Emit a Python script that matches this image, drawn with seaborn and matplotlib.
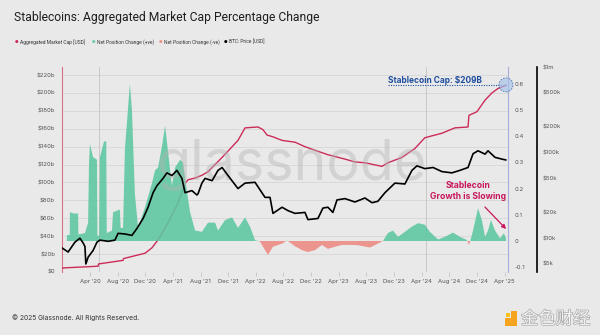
import numpy as np
import pandas as pd
import matplotlib
matplotlib.use("Agg")
import matplotlib.pyplot as plt
import matplotlib.dates as mdates
import matplotlib.patheffects as pe
from matplotlib.patches import Ellipse, FancyArrowPatch, Rectangle
from matplotlib.ticker import FixedLocator, FixedFormatter, NullLocator
import seaborn as sns

# ---- Aggregated stablecoin market cap (USD billions) ----
mcap_dates = ["2019-11-30", "2020-04-01", "2020-05-07", "2020-05-09", "2020-08-25", "2020-08-27",
              "2020-11-30", "2020-12-30", "2021-01-26", "2021-03-11", "2021-04-24", "2021-05-25",
              "2021-06-07", "2021-07-08", "2021-08-07", "2021-09-03", "2021-11-04", "2022-01-13",
              "2022-02-13", "2022-04-11", "2022-05-03", "2022-05-21", "2022-06-16", "2022-07-26",
              "2022-09-21", "2022-11-04", "2022-12-18", "2023-02-13", "2023-04-16", "2023-06-12",
              "2023-07-26", "2023-10-09", "2023-11-04", "2024-01-05", "2024-03-02", "2024-04-15",
              "2024-06-29", "2024-08-25", "2024-10-22", "2024-10-26", "2024-11-30", "2025-01-05",
              "2025-02-04", "2025-03-03", "2025-04-03", "2025-04-07"]
mcap_bn = [4.5, 6, 6.5, 9, 13, 15,
           21, 27, 36, 55, 77, 99,
           103, 105, 108, 112, 128, 147,
           161, 162, 159, 153, 151, 147,
           145, 140, 136, 131, 127, 123,
           122, 118, 122, 128, 138, 150,
           155, 161, 162, 175, 179, 192,
           200, 205, 208, 209]

# ---- BTC price (USD thousands) ----
btc_dates = ["2019-11-30", "2019-12-27", "2020-01-26", "2020-02-17", "2020-03-02", "2020-03-10",
             "2020-03-14", "2020-03-24", "2020-04-15", "2020-05-02", "2020-05-15", "2020-06-20",
             "2020-07-20", "2020-08-03", "2020-09-02", "2020-10-03", "2020-10-25", "2020-11-21",
             "2020-12-13", "2021-01-04", "2021-01-21", "2021-02-17", "2021-03-06", "2021-03-28",
             "2021-04-19", "2021-05-11", "2021-05-25", "2021-06-24", "2021-07-16", "2021-07-21",
             "2021-08-07", "2021-08-21", "2021-09-21", "2021-10-17", "2021-11-04", "2021-11-30",
             "2022-01-13", "2022-02-13", "2022-03-29", "2022-05-12", "2022-06-03", "2022-06-16",
             "2022-07-26", "2022-08-21", "2022-09-21", "2022-11-04", "2022-11-17", "2022-12-31",
             "2023-01-22", "2023-02-13", "2023-03-07", "2023-03-25", "2023-04-29", "2023-06-12",
             "2023-07-26", "2023-08-26", "2023-09-21", "2023-10-22", "2023-12-05", "2024-01-18",
             "2024-02-18", "2024-03-11", "2024-04-15", "2024-05-21", "2024-06-29", "2024-08-12",
             "2024-09-16", "2024-10-22", "2024-11-13", "2024-12-05", "2025-01-05", "2025-01-18",
             "2025-02-18", "2025-03-20", "2025-04-07"]
btc_k = [7.7, 6.9, 9.0, 10.0, 8.8, 8.0,
         5.0, 6.0, 7.2, 9.0, 9.5, 9.2,
         9.5, 11.4, 11.2, 10.8, 13.0, 17.0,
         23.0, 34.0, 41.0, 50.0, 58.0, 54.0,
         62.0, 50.0, 34.0, 36.0, 32.0, 33.0,
         44.0, 50.0, 47.0, 62.0, 67.0, 54.0,
         38.0, 44.0, 45.0, 30.0, 30.0, 19.5,
         23.0, 21.0, 19.5, 20.0, 16.5, 17.0,
         22.5, 23.0, 20.0, 28.0, 29.0, 26.5,
         29.5, 26.0, 27.0, 34.0, 44.0, 43.0,
         62.0, 70.0, 65.0, 67.0, 60.0, 58.0,
         62.0, 67.0, 97.0, 105.0, 96.0, 105.0,
         88.0, 84.0, 82.0]

# ---- Net position change (fraction, right axis) ----
net_dates = ["2019-12-21", "2019-12-22", "2020-01-03", "2020-01-04", "2020-01-20", "2020-02-09",
             "2020-02-10", "2020-03-10", "2020-03-24", "2020-03-28", "2020-04-01", "2020-04-15",
             "2020-05-02", "2020-05-04", "2020-05-12", "2020-05-15", "2020-06-02", "2020-06-12",
             "2020-06-14", "2020-07-07", "2020-07-12", "2020-08-11", "2020-08-14", "2020-08-25",
             "2020-09-02", "2020-09-24", "2020-10-03", "2020-10-16", "2020-10-30", "2020-11-30",
             "2020-12-30", "2021-01-13", "2021-01-26", "2021-02-12", "2021-02-26", "2021-03-11",
             "2021-03-28", "2021-04-11", "2021-05-03", "2021-05-16", "2021-06-02", "2021-06-16",
             "2021-07-08", "2021-08-07", "2021-09-03", "2021-10-04", "2021-10-17", "2021-11-17",
             "2021-12-18", "2022-01-13", "2022-02-13", "2022-03-07", "2022-03-29", "2022-04-20",
             "2022-05-12", "2022-05-25", "2022-06-16", "2022-07-26", "2022-08-17", "2022-09-21",
             "2022-10-22", "2022-11-17", "2022-12-18", "2023-01-18", "2023-02-13", "2023-03-16",
             "2023-04-16", "2023-05-30", "2023-06-25", "2023-08-17", "2023-09-21", "2023-10-13",
             "2023-11-04", "2023-11-26", "2023-12-19", "2024-01-18", "2024-02-18", "2024-03-16",
             "2024-04-15", "2024-05-07", "2024-06-12", "2024-07-12", "2024-08-17", "2024-09-16",
             "2024-10-17", "2024-10-26", "2024-11-04", "2024-11-13", "2024-12-05", "2024-12-22",
             "2025-01-05", "2025-01-18", "2025-01-31", "2025-02-18", "2025-03-12", "2025-03-29",
             "2025-04-07"]
net_change = [0.0, 0.023, 0.023, 0.11, 0.105, 0.105,
              0.025, 0.03, 0.07, 0.30, 0.37, 0.32,
              0.31, 0.02, 0.02, 0.32, 0.38, 0.38,
              0.03, 0.04, 0.11, 0.12, 0.05, 0.05,
              0.35, 0.60, 0.50, 0.18, 0.05, 0.13,
              0.22, 0.27, 0.28, 0.36, 0.44, 0.34,
              0.21, 0.28, 0.31, 0.30, 0.19, 0.11,
              0.04, 0.035, 0.07, 0.07, 0.04, 0.08,
              0.09, 0.05, 0.09, 0.055, 0.003, -0.002,
              -0.035, -0.053, -0.022, -0.01, 0.002, -0.02,
              -0.035, -0.042, -0.035, -0.015, -0.03, -0.022,
              -0.015, -0.015, -0.016, -0.025, -0.01, 0.0,
              0.03, 0.04, 0.016, 0.035, 0.055, 0.068,
              0.062, 0.035, 0.006, 0.016, 0.032, 0.016,
              0.004, -0.015, 0.01, 0.04, 0.125, 0.08,
              0.016, 0.04, 0.08, 0.04, 0.01, 0.03,
              0.01]

halving_dates = ["2020-05-11", "2024-04-20"]

left_ticks = [0, 20, 40, 60, 80, 100, 120, 140, 160, 180, 200, 220]
pct_ticks = [-0.1, 0, 0.1, 0.2, 0.3, 0.4, 0.5, 0.6]
pct_labels = ["-0.1", "0", "0.1", "0.2", "0.3", "0.4", "0.5", "0.6"]
btc_ticks = [5e3, 1e4, 2e4, 5e4, 1e5, 2e5, 5e5, 1e6]
btc_labels = ["$5k", "$10k", "$20k", "$50k", "$100k", "$200k", "$500k", "$1m"]

# ---- styling ----
BG = "#e9e9e9"
RED = "#cc2c58"
GREEN = "#5cc7a0"
SALMON = "#ec9189"
BLUE = "#1f4ea0"
MAGENTA = "#c8175d"
TICK = "#555555"

sns.set_theme(style="white")
plt.rcParams["font.family"] = ["Inter", "DejaVu Sans"]

W, H = 600, 335
fig = plt.figure(figsize=(W / 100, H / 100), dpi=100, facecolor=BG)


def fx(px):
    return px / W


def fy(py):
    return 1 - py / H


ax = fig.add_axes([fx(62), fy(272), (508 - 62) / W, (272 - 67) / H])
ax.set_facecolor(BG)
ax2 = ax.twinx()
ax3 = ax.twinx()
for a in (ax2, ax3):
    a.patch.set_visible(False)

mcap_dt = pd.to_datetime(mcap_dates)
btc_dt = pd.to_datetime(btc_dates)
net_dt = pd.to_datetime(net_dates)
net_v = np.array(net_change)

# grid + halving markers
ax.set_ylim(0, 229)
ax.yaxis.set_major_locator(FixedLocator(left_ticks))
ax.yaxis.set_major_formatter(FixedFormatter(["$0"] + [f"${v}b" for v in left_ticks[1:]]))
ax.grid(axis="y", color="#d6d6d6", lw=0.6)
ax.grid(axis="x", visible=False)
for d in halving_dates:
    ax.axvline(pd.Timestamp(d), color="#c9c9c9", lw=0.7, zorder=0.6)

# market cap line
sns.lineplot(x=mcap_dt, y=mcap_bn, ax=ax, color=RED, lw=1.0, zorder=3)

# net position change areas
ax2.fill_between(net_dt, 0, net_v, where=net_v >= 0, interpolate=True,
                 color=GREEN, alpha=0.88, lw=0, zorder=2)
ax2.fill_between(net_dt, 0, net_v, where=net_v <= 0, interpolate=True,
                 color=SALMON, alpha=0.95, lw=0, zorder=2)
ax2.set_ylim(-0.1183, 0.664)

# BTC price
ax3.set_yscale("log")
sns.lineplot(x=btc_dt, y=np.array(btc_k) * 1000, ax=ax3, color="black", lw=1.2, zorder=3)
ax3.set_ylim(4030, 1.0e6)

# watermark
ax3.text(0.515, 0.52, "glassnode", transform=ax.transAxes, ha="center", va="center",
         fontsize=40, color="#b4b4b4", alpha=0.42, zorder=1)

# x axis
ax.set_xlim(pd.Timestamp("2019-11-30"), pd.Timestamp("2025-04-16"))
xt = pd.date_range("2020-04-01", "2025-04-01", freq="4MS")
ax.xaxis.set_major_locator(FixedLocator(mdates.date2num(xt)))
ax.xaxis.set_major_formatter(mdates.DateFormatter("%b '%y"))
ax.tick_params(axis="x", length=3, width=0.6, color="#c4c4c4", labelsize=4.3,
               labelcolor=TICK, pad=2, bottom=True)
ax.tick_params(axis="y", length=0, labelsize=4.3, labelcolor=TICK, pad=5)
ax.set_xlabel("")
ax.set_ylabel("")

# spines
for s in ("top", "right", "bottom"):
    ax.spines[s].set_visible(False)
ax.spines["left"].set_color("#d8708c")
ax.spines["left"].set_linewidth(0.8)

for s in ("top", "left", "bottom"):
    ax2.spines[s].set_visible(False)
    ax3.spines[s].set_visible(False)
ax2.spines["right"].set_color("#a9add9")
ax2.spines["right"].set_linewidth(0.8)
ax2.yaxis.set_major_locator(FixedLocator(pct_ticks))
ax2.yaxis.set_major_formatter(FixedFormatter(pct_labels))
ax2.tick_params(axis="y", length=0, labelsize=4.3, labelcolor=TICK, pad=5)
ax2.set_ylabel("")

ax3.spines["right"].set_position(("outward", 29 * 0.72))
ax3.spines["right"].set_color("black")
ax3.spines["right"].set_linewidth(1.2)
ax3.yaxis.set_major_locator(FixedLocator(btc_ticks))
ax3.yaxis.set_major_formatter(FixedFormatter(btc_labels))
ax3.yaxis.set_minor_locator(NullLocator())
ax3.tick_params(axis="y", length=0, labelsize=4.3, labelcolor=TICK, pad=4)
ax3.set_ylabel("")
for a in (ax, ax2, ax3):
    leg = a.get_legend()
    if leg is not None:
        leg.remove()

# ---- annotation: current stablecoin cap ----
last_dt = mcap_dt[-1]
cap = mcap_bn[-1]
ax.plot([pd.Timestamp("2023-11-05"), last_dt], [cap, cap], ls=(0, (1, 1.2)),
        color=BLUE, lw=0.8, zorder=4)
ax.text(pd.Timestamp("2023-11-05"), cap + 4.8, f"Stablecoin Cap: ${cap}B", color=BLUE,
        fontsize=6.0, fontweight="bold", ha="left", va="center", zorder=5)
px, py = ax.transData.transform((mdates.date2num(last_dt), cap))
cx, cy = fig.transFigure.inverted().transform((px, py))
fig.add_artist(Ellipse((cx, cy), 14 / W, 14 / H, transform=fig.transFigure,
                       facecolor="#a9c4ea", alpha=0.7, edgecolor=BLUE, lw=0.6,
                       linestyle=(0, (2, 1.5)), zorder=6))

# ---- annotation: slowing growth ----
fig.text(fx(468), fy(191), "Stablecoin\nGrowth is Slowing", color=MAGENTA, fontsize=6.2,
         fontweight="bold", ha="center", va="center", linespacing=1.15)
fig.add_artist(FancyArrowPatch((fx(483), fy(205)), (fx(508), fy(231)),
                               transform=fig.transFigure, arrowstyle="-|>",
                               mutation_scale=6, color=MAGENTA, lw=0.9))

# ---- title and legend ----
fig.text(fx(14), fy(18), "Stablecoins: Aggregated Market Cap Percentage Change",
         fontsize=8.75, color="#1e1e1e", ha="left", va="center", family=["Roboto", "DejaVu Sans"])
legend_items = [(17, RED, "Aggregated Market Cap [USD]"),
                (94, "#6ccba8", "Net Position Change (+ve)"),
                (161, SALMON, "Net Position Change (-ve)"),
                (226, "black", "BTC: Price [USD]")]
for x0, c, lab in legend_items:
    fig.text(fx(x0), fy(42), "●", color=c, fontsize=3.0, ha="center", va="center",
             family=["DejaVu Sans"])
    fig.text(fx(x0 + 3), fy(42), lab, color="#333333", fontsize=3.5, ha="left", va="center",
             family=["Roboto", "DejaVu Sans"])

# ---- footer ----
fig.text(fx(12), fy(318), "© 2025 Glassnode. All Rights Reserved.", fontsize=4.8,
         color="#333333", ha="left", va="center")
fig.add_artist(Rectangle((fx(505), fy(326)), 12 / W, 15 / H, transform=fig.transFigure,
                         facecolor="#f4a41e", edgecolor="none"))
fig.add_artist(Rectangle((fx(505), fy(318)), 6 / W, 7 / H, transform=fig.transFigure,
                         facecolor=BG, edgecolor="none"))
fig.add_artist(Rectangle((fx(506), fy(317)), 4 / W, 4 / H, transform=fig.transFigure,
                         facecolor="#f7c21f", edgecolor="none"))
fig.text(fx(521), fy(319), "金色财经", fontsize=12.5, color="#f2f2f2", ha="left", va="center",
         family=["Noto Sans CJK SC", "DejaVu Sans"],
         path_effects=[pe.withStroke(linewidth=0.9, foreground="#a5a5a5")])

fig.savefig("out.png", dpi=100, facecolor=BG)
